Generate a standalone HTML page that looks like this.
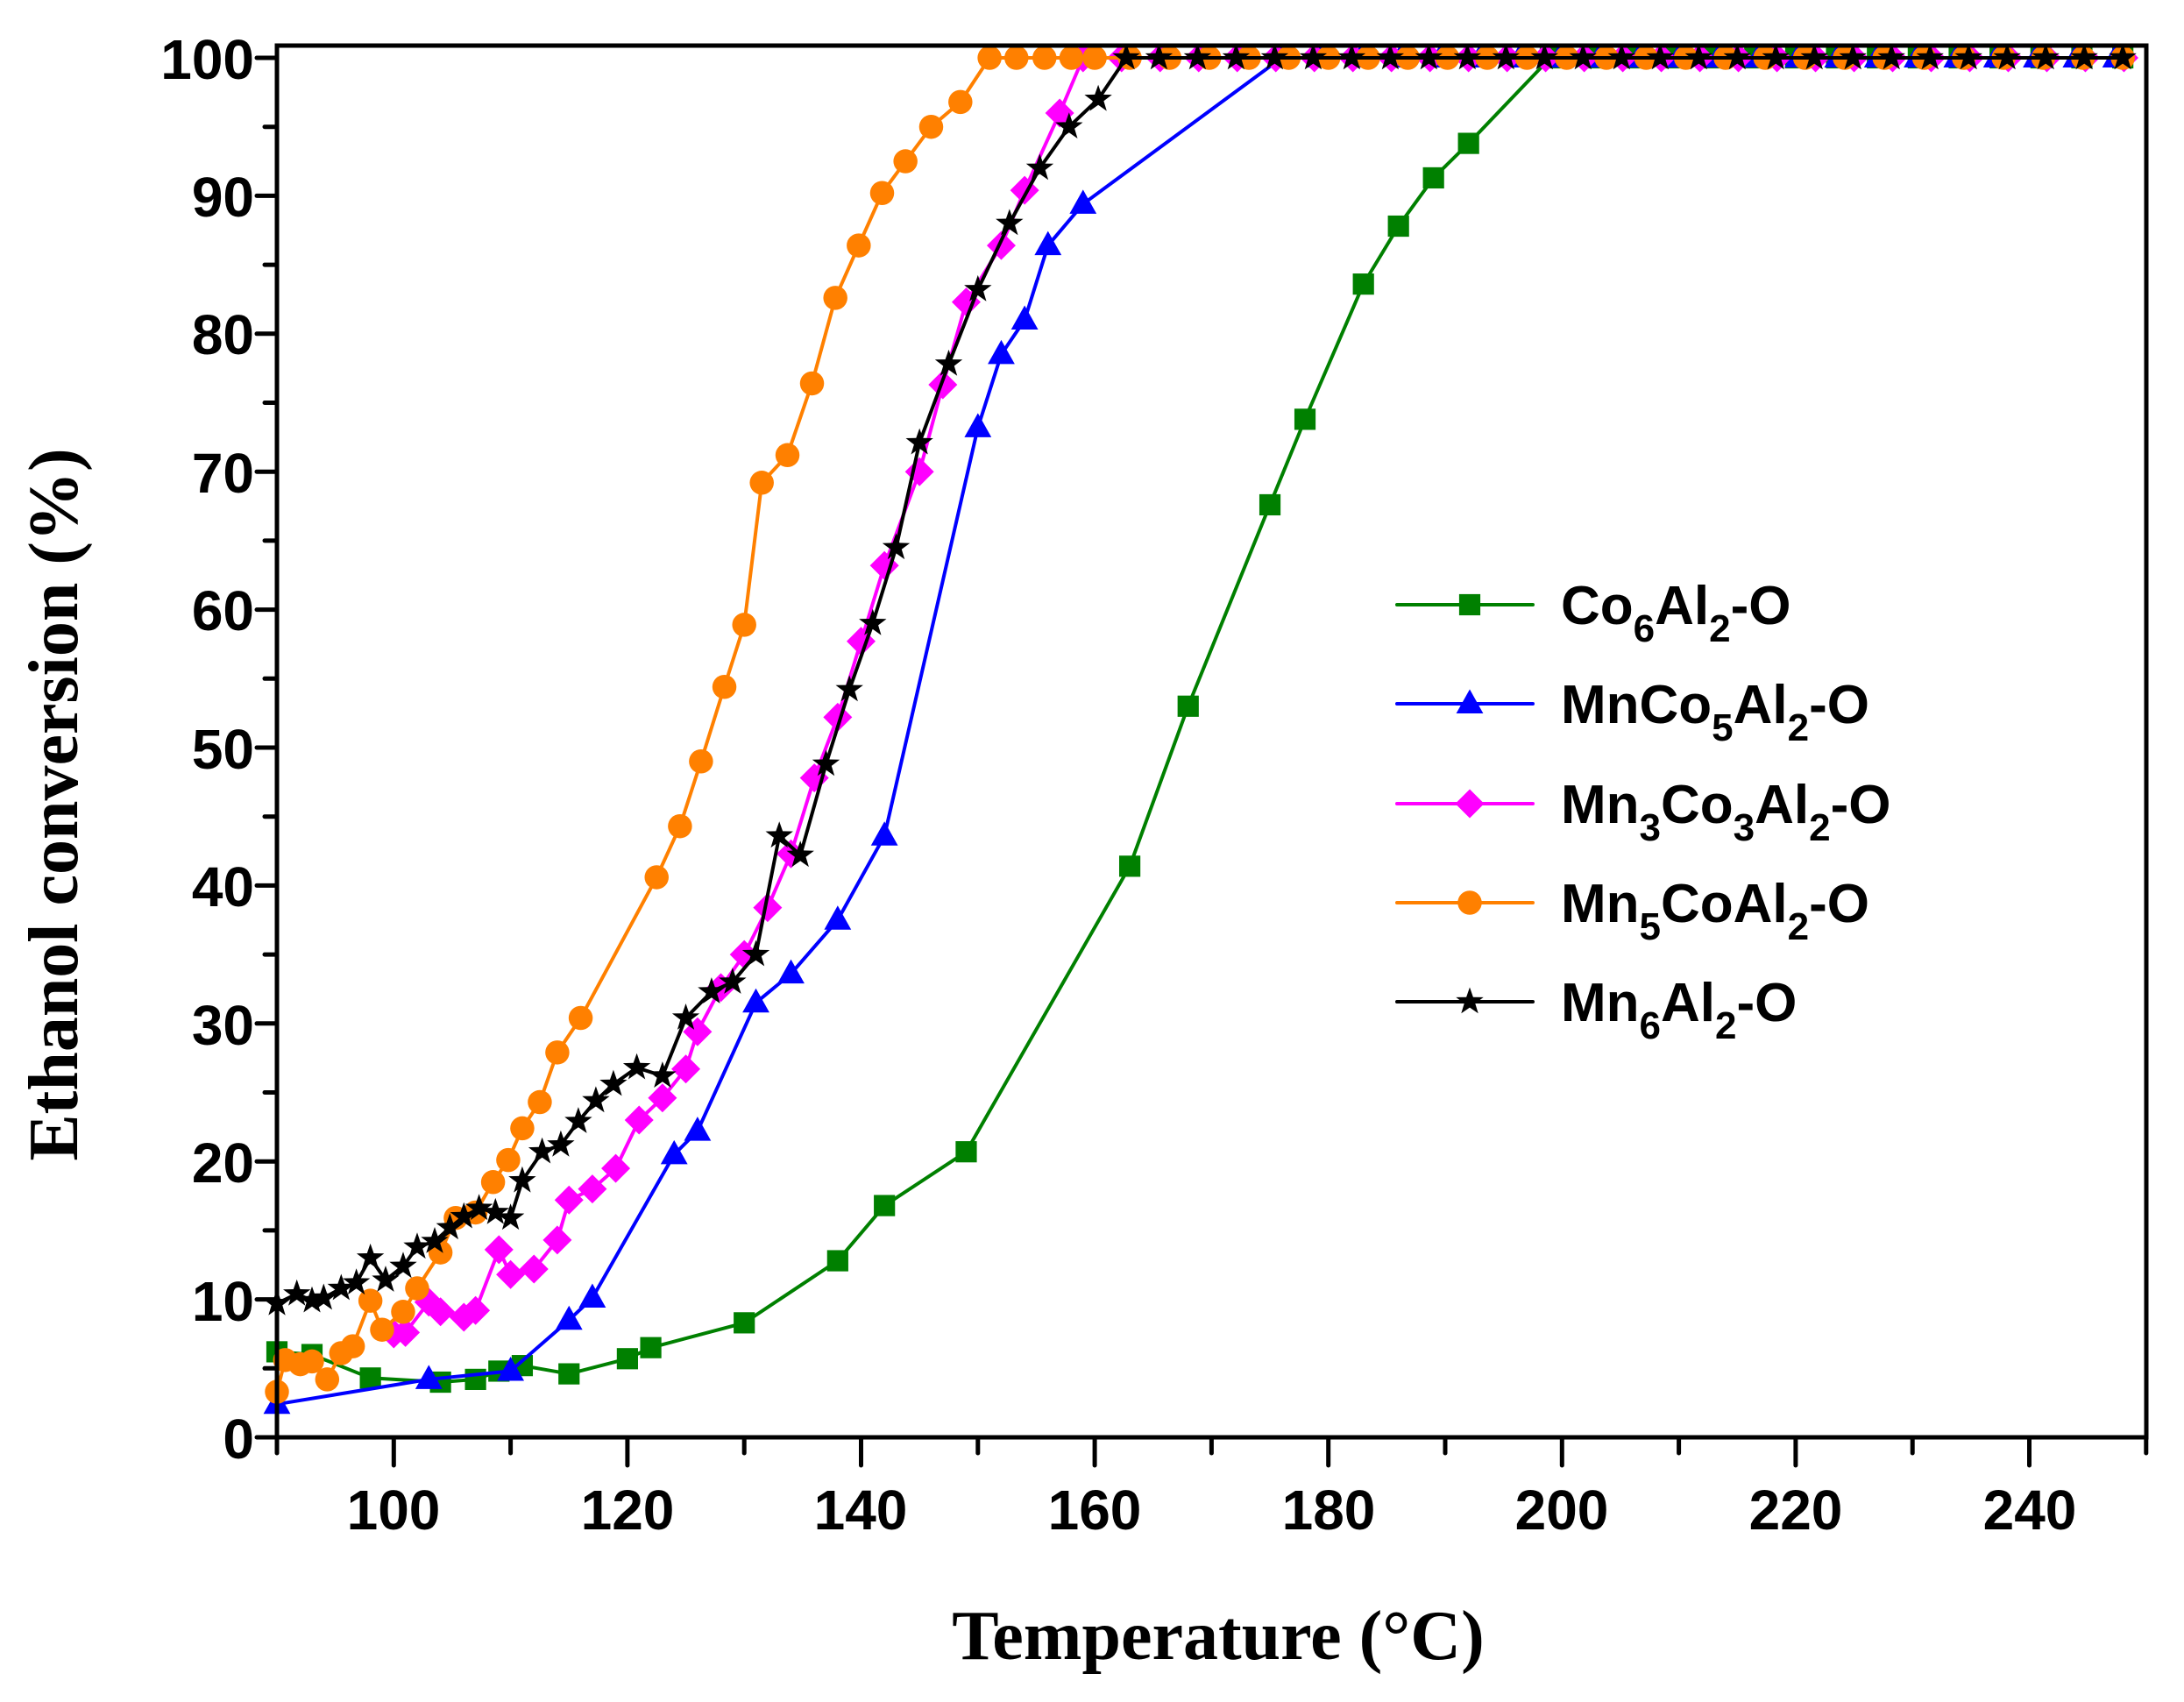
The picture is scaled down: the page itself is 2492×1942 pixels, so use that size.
<!DOCTYPE html>
<html><head><meta charset="utf-8"><style>
html,body{margin:0;padding:0;background:#fff;}
svg{display:block;}
.t{font-family:"Liberation Sans",sans-serif;font-weight:bold;font-size:64px;}
.lg{font-family:"Liberation Sans",sans-serif;font-weight:bold;font-size:62px;}
.ax{font-family:"Liberation Serif",serif;font-weight:bold;font-size:80px;}
</style></head><body>
<svg id="s" width="2492" height="1942" viewBox="0 0 2492 1942" xmlns="http://www.w3.org/2000/svg">
<g id="ticks" stroke="#000" stroke-width="5" stroke-linecap="round"></g>
<g class="t" text-anchor="end">
<text x="290" y="1664">0</text><text x="290" y="1507">10</text><text x="290" y="1349">20</text>
<text x="290" y="1192">30</text><text x="290" y="1034">40</text><text x="290" y="877">50</text>
<text x="290" y="719">60</text><text x="290" y="562">70</text><text x="290" y="404">80</text>
<text x="290" y="247">90</text><text x="290" y="90">100</text>
</g>
<g class="t" text-anchor="middle">
<text x="449" y="1745">100</text><text x="716" y="1745">120</text><text x="982" y="1745">140</text>
<text x="1249" y="1745">160</text><text x="1516" y="1745">180</text><text x="1782" y="1745">200</text>
<text x="2049" y="1745">220</text><text x="2316" y="1745">240</text>
</g>
<text class="ax" x="1390" y="1893" text-anchor="middle">Temperature (°C)</text>
<text class="ax" transform="translate(88,918) rotate(-90)" text-anchor="middle">Ethanol conversion (%)</text>
<g id="data"></g>
<rect x="316" y="52" width="2133" height="1588" fill="none" stroke="#000" stroke-width="5"/>
<g id="legend"></g>
<g class="lg">
<text x="1781" y="712">Co<tspan font-size="44" dy="20">6</tspan><tspan dy="-20">Al</tspan><tspan font-size="44" dy="20">2</tspan><tspan dy="-20">-O</tspan></text>
<text x="1781" y="825">MnCo<tspan font-size="44" dy="20">5</tspan><tspan dy="-20">Al</tspan><tspan font-size="44" dy="20">2</tspan><tspan dy="-20">-O</tspan></text>
<text x="1781" y="939">Mn<tspan font-size="44" dy="20">3</tspan><tspan dy="-20">Co</tspan><tspan font-size="44" dy="20">3</tspan><tspan dy="-20">Al</tspan><tspan font-size="44" dy="20">2</tspan><tspan dy="-20">-O</tspan></text>
<text x="1781" y="1052">Mn<tspan font-size="44" dy="20">5</tspan><tspan dy="-20">CoAl</tspan><tspan font-size="44" dy="20">2</tspan><tspan dy="-20">-O</tspan></text>
<text x="1781" y="1165">Mn<tspan font-size="44" dy="20">6</tspan><tspan dy="-20">Al</tspan><tspan font-size="44" dy="20">2</tspan><tspan dy="-20">-O</tspan></text>
</g>
</svg>
<script>
const NS="http://www.w3.org/2000/svg";
const X=t=>316+(t-90)*13.33, Y=v=>1640-v*15.74;
function el(n,a,p){const e=document.createElementNS(NS,n);for(const k in a)e.setAttribute(k,a[k]);p.appendChild(e);return e;}
const tk=document.getElementById('ticks');
for(let v=0;v<=100;v+=5){const y=Y(v);el('line',{x1:316,x2:v%10?302:293,y1:y,y2:y},tk);}
for(let t=90;t<=250;t+=10){const x=X(t);el('line',{x1:x,x2:x,y1:1640,y2:(t%20==0)?1672:1658},tk);}
function full(start,step){const a=[];for(let t=start;t<=250.1;t+=step)a.push([t,100]);return a;}
const S=[
{c:"#008000",m:"sq",d:[[90,6.2],[93,6],[98,4.3],[104,4],[107,4.2],[109,4.8],[111,5.2],[115,4.6],[120,5.7],[122,6.5],[130,8.3],[138,12.8],[142,16.8],[149,20.7],[163,41.4],[168,53],[175,67.6],[178,73.8],[183,83.6],[186,87.8],[189,91.3],[192,93.8]].concat(full(199,3.5))},
{c:"#0000ff",m:"tri",d:[[90,2.4],[103,4.2],[110,4.8],[115,8.5],[117,10.1],[124,20.5],[126,22.2],[131,31.5],[134,33.6],[138,37.5],[142,43.6],[150,73.2],[152,78.5],[154,81],[156,86.4],[159,89.4]].concat(full(176,3.4))},
{c:"#ff00ff",m:"dia",d:[[100,7.5],[101,7.6],[103,9.8],[104,9.1],[106,8.7],[107,9.2],[109,13.6],[110,11.8],[112,12.2],[114,14.3],[115,17.2],[117,18],[119,19.5],[121,23],[123,24.6],[125,26.7],[126,29.4],[128,32.6],[130,35],[132,38.4],[134,42.3],[136,47.8],[138,52.2],[140,57.7],[142,63.2],[145,70],[147,76.3],[149,82.3],[152,86.4],[154,90.4],[157,96]].concat(full(159,3.3))},
{c:"#ff8000",m:"ci",d:[[90,3.3],[90.7,5.6],[92,5.3],[93,5.5],[94.3,4.2],[95.5,6.1],[96.5,6.6],[98,9.9],[99,7.8],[100.8,9.1],[102,10.8],[104,13.4],[105.3,15.9],[107,16.3],[108.5,18.5],[109.8,20.1],[111,22.4],[112.5,24.3],[114,27.9],[116,30.4],[122.5,40.6],[124.5,44.3],[126.3,49],[128.3,54.4],[130,58.9],[131.5,69.2],[133.7,71.2],[135.8,76.4],[137.8,82.6],[139.8,86.4],[141.8,90.2],[143.8,92.5],[146,95],[148.5,96.8],[151,100],[153.3,100],[155.7,100],[158,100],[160,100]].concat(full(163,3.4))},
{c:"#000000",m:"st",d:[[90,9.7],[91.7,10.4],[93,9.9],[94,10.1],[95.5,10.8],[96.8,11.2],[98,13],[99.3,11.4],[100.8,12.4],[102,13.8],[103.5,14.2],[104.8,15.2],[106,16],[107.3,16.6],[108.7,16.3],[110,15.9],[111,18.6],[112.7,20.7],[114.3,21.2],[115.8,22.9],[117.3,24.4],[118.8,25.6],[120.8,26.8],[123,26.2],[125,30.4],[127.2,32.3],[129,33],[131,35],[133,43.6],[134.8,42.2],[137,48.8],[139,54.2],[141,59],[143,64.5],[145,72.1],[147.5,77.8],[150,83.2],[152.7,88],[155.3,92],[157.8,95],[160.3,97],[162.7,100]].concat(full(165.5,3.3))}
];
function mk(type,x,y,c,g,sz){sz=sz||1.1;
 if(type=="sq")el('rect',{x:x-11*sz,y:y-11*sz,width:22*sz,height:22*sz,fill:c},g);
 else if(type=="tri")el('polygon',{points:`${x},${y-15*sz} ${x+14*sz},${y+10*sz} ${x-14*sz},${y+10*sz}`,fill:c},g);
 else if(type=="dia")el('polygon',{points:`${x},${y-15*sz} ${x+15*sz},${y} ${x},${y+15*sz} ${x-15*sz},${y}`,fill:c},g);
 else if(type=="ci")el('circle',{cx:x,cy:y,r:12.5*sz,fill:c},g);
 else {let p=[];for(let i=0;i<10;i++){const r=i%2?6*sz:15*sz,a=-Math.PI/2+i*Math.PI/5;p.push((x+r*Math.cos(a)).toFixed(1)+","+(y+r*Math.sin(a)).toFixed(1));}el('polygon',{points:p.join(" "),fill:c},g);}
}
const g=document.getElementById('data');
S.forEach(s=>{el('polyline',{points:s.d.map(p=>X(p[0]).toFixed(1)+","+Y(p[1]).toFixed(1)).join(" "),fill:"none",stroke:s.c,"stroke-width":4,"stroke-linejoin":"round"},g);
 s.d.forEach(p=>{if(p[0]<=250)mk(s.m,X(p[0]),Y(p[1]),s.c,g);});});
const lg=document.getElementById('legend');const ly=[690,803,917,1030,1143];
S.forEach((s,i)=>{el('line',{x1:1594,x2:1749,y1:ly[i],y2:ly[i],stroke:s.c,"stroke-width":4,"stroke-linecap":"round"},lg);mk(s.m,1677,ly[i],s.c,lg);});
</script>
</body></html>
